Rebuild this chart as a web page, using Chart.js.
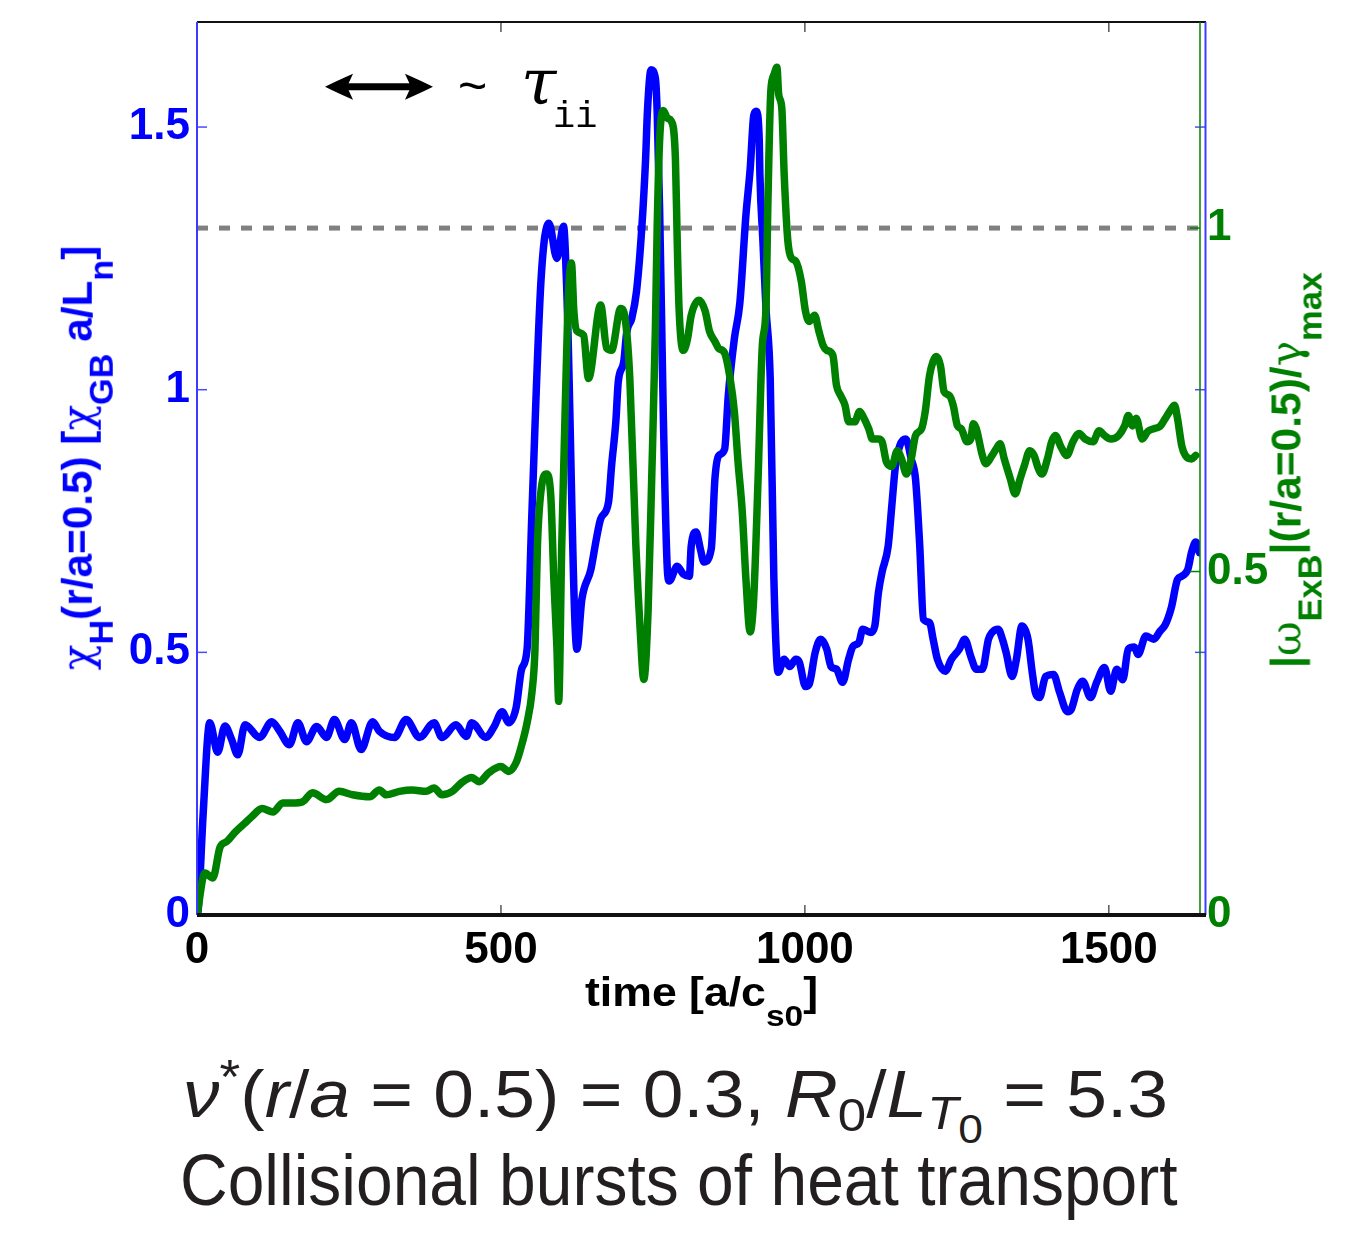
<!DOCTYPE html>
<html><head><meta charset="utf-8">
<script src="https://cdn.jsdelivr.net/npm/chart.js@4.4.0/dist/chart.umd.min.js"></script>
<style>
html,body{margin:0;padding:0;background:#fff;}
#wrap{position:relative;width:1364px;height:1233px;overflow:hidden;background:#fff;}
#c{position:absolute;left:0;top:0;}
.t{position:absolute;white-space:nowrap;line-height:1;left:0;top:0;}
.bl{display:inline-block;width:0;height:0;}
.lab{font-family:'Liberation Sans',Arial,sans-serif;font-weight:bold;}
.gk{font-family:'DejaVu Serif',serif;font-weight:normal;}
.cap{font-family:'Liberation Sans',Arial,sans-serif;font-weight:normal;color:#231f20;}
</style></head><body>
<div id="wrap">
<canvas id="c" width="1364" height="1040"></canvas>
<div class="t lab" id="ylab" style="font-size:42px;color:#0000ff"><span class="gk">χ</span><span style="font-size:34px;position:relative;top:21px">H</span>(r/a=0.5) [<span class="gk">χ</span><span style="font-size:34px;position:relative;top:21px">GB</span> a/L<span style="font-size:34px;position:relative;top:21px">n</span>]<span class="bl"></span></div>
<div class="t lab" id="y1lab" style="font-size:42px;color:#008000">|<span class="gk">ω</span><span style="font-size:34px;position:relative;top:21px">ExB</span>|(r/a=0.5)/<span class="gk">γ</span><span style="font-size:34px;position:relative;top:21px">max</span><span class="bl"></span></div>
<div class="t lab" id="xlab" style="font-size:40px;color:#000">time [a/c<span style="font-size:30px;position:relative;top:20px">s0</span>]<span class="bl"></span></div>
<div class="t" id="tilde" style="font-family:'Liberation Sans';font-size:50px;color:#000">~<span class="bl"></span></div>
<div class="t" id="tau" style="font-family:'DejaVu Serif';font-style:italic;font-size:64px;color:#000">τ<span class="bl"></span></div>
<div class="t" id="ii" style="font-family:'Liberation Mono';font-size:37px;color:#000">ii<span class="bl"></span></div>
<div class="t cap" id="cap1" style="font-size:66px"><i>ν</i><span style="font-size:48px;position:relative;top:-24px">*</span>(<i>r</i>/<i>a</i> = 0.5) = 0.3, <i>R</i><span style="font-size:46px;position:relative;top:14px">0</span>/<i>L</i><span style="font-size:46px;position:relative;top:12px"><i>T</i><span style="font-size:40px;position:relative;top:14px">0</span></span> = 5.3<span class="bl"></span></div>
<div class="t cap" id="cap2" style="font-size:72px">Collisional bursts of heat transport<span class="bl"></span></div>
</div>
<script>
// ---- data ----
const chiT = [0,2,10,21,34,46,57,67,79,103,123,136,152,166,180,197,213,226,243,254,270,289,300,325,344,366,390,403,426,443,452,475,489,502,513,525,534,543,551,566,579,592,603,608,625,633,648,657,664,677,682,689,693,702,707,715,723,732,738,741,747,754,757,761,764,767,774,777,790,800,810,813,821,828,834,846,852,858,868,874,884,893,903,910,916,920,925,926,931,936,943,949,956,966,975,985,991,1001,1007,1017,1026,1036,1043,1052,1062,1072,1079,1089,1095,1108,1115,1121,1127,1137,1143,1149,1156,1166,1175,1182,1189,1195,1205,1211,1218,1231,1241,1254,1263,1273,1282,1292,1302,1308,1318,1325,1331,1341,1348,1357,1367,1374,1379,1386,1396,1409,1419,1432,1438,1448,1457,1470,1480,1493,1503,1513,1523,1532,1542,1548,1561,1574,1584,1593,1603,1613,1620,1630,1636,1643,1649];
const chiV = [0,0.01,0.19,0.366,0.31,0.36,0.334,0.305,0.362,0.338,0.368,0.35,0.324,0.366,0.33,0.359,0.338,0.372,0.334,0.366,0.315,0.368,0.35,0.338,0.372,0.338,0.366,0.338,0.362,0.34,0.366,0.338,0.359,0.387,0.366,0.395,0.468,0.506,0.767,1.21,1.317,1.25,1.311,1.2,0.506,0.6,0.658,0.716,0.754,0.786,0.855,0.939,1.015,1.053,1.11,1.135,1.187,1.313,1.44,1.53,1.609,1.593,1.53,1.345,1.155,0.958,0.653,0.636,0.664,0.649,0.645,0.702,0.729,0.697,0.672,0.697,0.83,0.874,0.887,0.989,1.097,1.165,1.332,1.42,1.523,1.53,1.473,1.41,1.282,1.155,1.02,0.64,0.462,0.487,0.473,0.487,0.481,0.435,0.439,0.5,0.525,0.506,0.473,0.468,0.443,0.487,0.511,0.519,0.544,0.538,0.55,0.614,0.653,0.702,0.779,0.855,0.893,0.906,0.868,0.83,0.702,0.563,0.557,0.525,0.487,0.464,0.487,0.506,0.525,0.492,0.468,0.468,0.525,0.538,0.544,0.525,0.5,0.454,0.487,0.55,0.525,0.462,0.424,0.414,0.454,0.458,0.424,0.387,0.391,0.429,0.445,0.414,0.443,0.471,0.426,0.468,0.448,0.506,0.51,0.496,0.531,0.525,0.54,0.553,0.586,0.639,0.645,0.658,0.69,0.71,0.69];
const omegaT = [0,13,26,38,49,62,79,90,107,125,141,157,174,190,213,234,256,284,300,311,333,354,377,390,403,420,436,452,464,480,500,513,525,533,543,551,556,560,567,575,582,587,592,595,600,607,611,616,620,625,636,644,664,674,682,697,705,712,722,729,735,742,748,754,757,761,767,774,780,787,790,793,800,807,813,826,836,843,852,858,868,877,884,890,897,903,910,916,923,930,936,939,944,949,954,957,962,966,972,978,985,994,1001,1007,1016,1023,1030,1036,1046,1052,1059,1066,1072,1082,1090,1095,1105,1111,1121,1127,1134,1143,1152,1159,1167,1175,1182,1192,1198,1205,1211,1216,1223,1229,1238,1244,1251,1257,1267,1273,1277,1282,1292,1298,1308,1315,1321,1328,1338,1346,1354,1361,1370,1377,1384,1390,1399,1406,1412,1421,1431,1441,1451,1461,1474,1484,1493,1503,1516,1526,1532,1539,1545,1555,1564,1574,1584,1593,1603,1608,1613,1620,1626,1636,1643];
const omegaV = [0,0.061,0.054,0.099,0.107,0.12,0.134,0.143,0.155,0.15,0.163,0.163,0.165,0.178,0.168,0.18,0.175,0.172,0.182,0.175,0.18,0.182,0.18,0.185,0.175,0.18,0.193,0.2,0.194,0.207,0.216,0.209,0.222,0.244,0.28,0.324,0.387,0.537,0.625,0.642,0.61,0.489,0.391,0.311,0.537,0.781,0.902,0.949,0.879,0.85,0.844,0.781,0.888,0.825,0.822,0.883,0.864,0.781,0.537,0.416,0.343,0.441,0.635,0.85,1.0,1.127,1.171,1.16,1.156,1.102,0.981,0.883,0.822,0.839,0.873,0.895,0.879,0.85,0.835,0.825,0.818,0.781,0.733,0.66,0.587,0.489,0.412,0.464,0.635,0.829,0.883,1.029,1.2,1.223,1.234,1.194,1.175,1.077,0.981,0.956,0.952,0.923,0.879,0.864,0.873,0.85,0.829,0.822,0.815,0.771,0.756,0.742,0.718,0.718,0.733,0.727,0.708,0.693,0.693,0.689,0.66,0.653,0.676,0.664,0.642,0.664,0.698,0.708,0.733,0.785,0.806,0.813,0.8,0.762,0.756,0.742,0.712,0.708,0.689,0.693,0.715,0.708,0.669,0.657,0.669,0.679,0.686,0.664,0.635,0.613,0.635,0.654,0.676,0.669,0.65,0.642,0.664,0.689,0.698,0.682,0.669,0.689,0.701,0.693,0.689,0.705,0.698,0.693,0.698,0.712,0.727,0.712,0.723,0.693,0.704,0.708,0.711,0.723,0.737,0.742,0.723,0.683,0.669,0.664,0.669];
const refT = [0, 1650];
const refV = [1, 1];
const xTicks = [0, 500, 1000, 1500];
const yTicks = [0, 0.5, 1, 1.5];
const y1Ticks = [0, 0.5, 1];
const arrowX = [210.6, 388.2];
const arrowY = 1.5765;

const pts = (t, v) => t.map((x, i) => ({x, y: v[i]}));
const tickFont = {family: "'Liberation Sans', Arial, sans-serif", size: 44, weight: 'bold'};
const zeroPad = s => { s.paddingTop = 0; s.paddingBottom = 0; s.paddingLeft = 0; s.paddingRight = 0; };
const raw = v => String(v);

function seg(ctx, a, b, c, d) { ctx.beginPath(); ctx.moveTo(a, b); ctx.lineTo(c, d); ctx.stroke(); }

const framePlugin = {
  id: 'frame',
  afterDatasetsDraw(chart) {
    const {ctx, chartArea: a, scales} = chart;
    const x = scales.x, y = scales.y, y1 = scales.y1;
    ctx.save();
    ctx.setLineDash([]);
    ctx.lineCap = 'butt';
    ctx.strokeStyle = '#555'; ctx.lineWidth = 1.5;
    xTicks.forEach(v => { if (v <= 0) return; const p = x.getPixelForValue(v);
      seg(ctx, p, a.bottom, p, a.bottom - 10); seg(ctx, p, a.top, p, a.top + 10); });
    ctx.strokeStyle = '#4a4aff';
    yTicks.forEach(v => { if (v <= 0) return; const p = y.getPixelForValue(v);
      seg(ctx, a.left, p, a.left + 10, p); seg(ctx, a.right + 5, p, a.right - 5, p); });
    ctx.strokeStyle = '#008000';
    y1Ticks.forEach(v => { if (v <= 0) return; const p = y1.getPixelForValue(v);
      seg(ctx, a.right, p, a.right - 10, p); });
    // spines
    ctx.strokeStyle = '#111'; ctx.lineWidth = 2; seg(ctx, a.left, a.top, a.right + 6, a.top);
    ctx.strokeStyle = '#3c3cff'; ctx.lineWidth = 2; seg(ctx, a.left, a.top, a.left, a.bottom);
    ctx.strokeStyle = '#008000'; ctx.lineWidth = 1.5; seg(ctx, a.right, a.top, a.right, a.bottom);
    ctx.strokeStyle = '#3c3cff'; ctx.lineWidth = 2; seg(ctx, a.right + 5.5, a.top, a.right + 5.5, a.bottom);
    ctx.strokeStyle = '#111'; ctx.lineWidth = 4; seg(ctx, a.left, a.bottom, a.right + 6, a.bottom);
    // arrow
    const x0 = x.getPixelForValue(arrowX[0]), x1 = x.getPixelForValue(arrowX[1]), py = y.getPixelForValue(arrowY);
    ctx.strokeStyle = '#000'; ctx.fillStyle = '#000'; ctx.lineWidth = 7;
    seg(ctx, x0 + 15, py, x1 - 15, py);
    [[x0, 1], [x1, -1]].forEach(([tx, d]) => {
      ctx.beginPath();
      ctx.moveTo(tx, py);
      ctx.quadraticCurveTo(tx + d * 12, py - 6, tx + d * 28, py - 13);
      ctx.lineTo(tx + d * 22, py);
      ctx.lineTo(tx + d * 28, py + 13);
      ctx.quadraticCurveTo(tx + d * 12, py + 6, tx, py);
      ctx.closePath(); ctx.fill();
    });
    ctx.restore();
  }
};

new Chart(document.getElementById('c'), {
  type: 'line',
  data: {datasets: [
    {label: 'omega', data: pts(omegaT, omegaV), yAxisID: 'y1', borderColor: '#008000', borderWidth: 7.5,
     pointRadius: 0, cubicInterpolationMode: 'monotone', borderJoinStyle: 'round', borderCapStyle: 'round', order: 0},
    {label: 'chi', data: pts(chiT, chiV), yAxisID: 'y', borderColor: '#0000ff', borderWidth: 7.5,
     pointRadius: 0, cubicInterpolationMode: 'monotone', borderJoinStyle: 'round', borderCapStyle: 'round', order: 1},
    {label: 'ref', data: pts(refT, refV), yAxisID: 'y1', borderColor: '#808080', borderWidth: 5,
     borderDash: [11, 11], pointRadius: 0, order: 2}
  ]},
  options: {
    responsive: false, animation: false, devicePixelRatio: 1,
    layout: {padding: {top: 22, left: 0, right: 0, bottom: 0}},
    plugins: {legend: {display: false}, tooltip: {enabled: false}},
    scales: {
      x: {type: 'linear', min: 0, max: 1650,
        afterBuildTicks: s => { s.ticks = xTicks.map(v => ({value: v})); },
        afterFit: s => { s.height = 1040 - 915; zeroPad(s); },
        grid: {display: false, drawTicks: false}, border: {display: false},
        ticks: {font: tickFont, color: '#000', padding: 9, maxRotation: 0, autoSkip: false, callback: raw}},
      y: {position: 'left', min: 0, max: 1.7,
        afterBuildTicks: s => { s.ticks = yTicks.map(v => ({value: v})); },
        afterFit: s => { s.width = 197; zeroPad(s); },
        grid: {display: false, drawTicks: false}, border: {display: false},
        ticks: {font: tickFont, color: '#0000ff', padding: 7, autoSkip: false, callback: raw}},
      y1: {position: 'right', min: 0, max: 1.3,
        afterBuildTicks: s => { s.ticks = y1Ticks.map(v => ({value: v})); },
        afterFit: s => { s.width = 164; zeroPad(s); },
        grid: {display: false, drawTicks: false}, border: {display: false},
        ticks: {font: tickFont, color: '#008000', padding: 7, autoSkip: false, callback: raw}}
    }
  },
  plugins: [framePlugin]
});

// ---- text placement ----
function place(id, left, base, width) {
  const el = document.getElementById(id);
  const off = el.querySelector('.bl').offsetTop;
  const w = el.offsetWidth;
  el.style.left = left + 'px'; el.style.top = (base - off) + 'px';
  if (width) { el.style.transformOrigin = '0 0'; el.style.transform = 'scaleX(' + (width / w) + ')'; }
}
function placeRot(id, baseX, yBottom, yTop) {
  const el = document.getElementById(id);
  const off = el.querySelector('.bl').offsetTop;
  const w = el.offsetWidth, h = el.offsetHeight;
  const s = (yBottom - yTop) / w;
  const cy = (yBottom + yTop) / 2;
  const cx = baseX - (off - h / 2);
  el.style.left = (cx - w / 2) + 'px'; el.style.top = (cy - h / 2) + 'px';
  el.style.transformOrigin = '50% 50%';
  el.style.transform = 'rotate(-90deg) scaleX(' + s + ')';
}
placeRot('ylab', 92, 670, 245);
placeRot('y1lab', 1300, 668, 272);
place('xlab', 585, 1006, 233);
place('tilde', 458, 103);
place('tau', 521, 104);
place('ii', 553, 127);
place('cap1', 183, 1117, 985);
place('cap2', 180, 1205, 998);
</script>
</body></html>
